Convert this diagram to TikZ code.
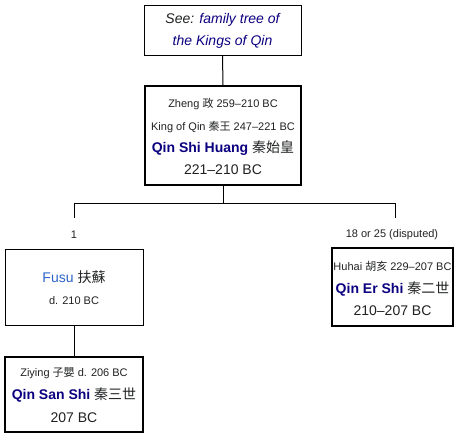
\documentclass[tikz,border=0pt]{standalone}
\usepackage{fontspec}
\setmainfont{Liberation Sans}
\newfontfamily\cjk{Noto Sans CJK TC}
\usepackage{xcolor}
\definecolor{visitedblue}{RGB}{11,0,128}
\definecolor{linkblue}{RGB}{45,100,200}
\definecolor{darktext}{RGB}{32,33,34}

\tikzset{
  box/.style={draw, line width=1pt, inner sep=0pt},
  thickbox/.style={draw, line width=2pt, inner sep=0pt},
  tiny/.style={font=\fontsize{11}{13}\selectfont, text=darktext, inner sep=0pt},
  large/.style={font=\fontsize{14}{16}\selectfont, text=darktext, inner sep=0pt},
  conn/.style={line width=1pt}
}

\begin{document}
\begin{tikzpicture}[x=1pt,y=1pt,yscale=-1,xscale=1]
\useasboundingbox (0,0) rectangle (463,439);

%Shape: Rectangle [see also]
\node (seebox) [box, minimum width=157, minimum height=50] at (222.5,30) {};
%Shape: Rectangle [Qin Shi Huang]
\node (shihuang) [thickbox, minimum width=156, minimum height=99] at (223,135.5) {};
%Shape: Rectangle [Fusu]
\node (fusu) [box, minimum width=138, minimum height=76] at (74,287) {};
%Shape: Rectangle [Qin Er Shi]
\node (ershi) [thickbox, minimum width=121, minimum height=78] at (392.5,287) {};
%Shape: Rectangle [Qin San Shi]
\node (ziying) [thickbox, minimum width=138, minimum height=75] at (74,394.5) {};

%Straight Lines
\coordinate (fork) at (shihuang.south |- 0,203);
\coordinate (leftfork) at (74,203);
\coordinate (rightfork) at (395,203);
\coordinate (leftend) at (74,218);
\coordinate (rightend) at (395,218);
\draw [conn] (seebox.south) -- (shihuang.north);
\draw [conn] (shihuang.south) -- (fork);
\draw [conn] (leftend) -- (leftfork) -- (rightfork) -- (rightend);
\draw [conn] (fusu.south) -- (ziying.north);

% Text Node
\node (seeA) [large] at (222.5,20) {\itshape See: \textcolor{visitedblue}{family tree of}};
% Text Node
\node (seeB) [large, text=visitedblue] at (222.5,42) {\itshape the Kings of Qin};

% Text Node
\node (zheng) [tiny] at (223,104) {Zheng {\cjk 政} 259–210 BC};
% Text Node
\node (kingqin) [tiny] at (223,127) {King of Qin {\cjk 秦王} 247–221 BC};
% Text Node
\node (shname) [large] at (223,148) {\textcolor{visitedblue}{\bfseries Qin Shi Huang} {\cjk 秦始皇}};
% Text Node
\node (shyears) [large] at (223,169.5) {221–210 BC};

% Text Node
\node (sonA) [tiny] at (74,235) {1};
% Text Node
\node (sonB) [tiny] at (392,235) {18 or 25 (disputed)};

% Text Node
\node (fsname) [large] at (74,277) {\textcolor{linkblue}{Fusu} {\cjk 扶蘇}};
% Text Node
\node (fsdied) [tiny] at (74,300.5) {d. 210 BC};

% Text Node
\node (huhai) [tiny] at (392.5,266) {Huhai {\cjk 胡亥} 229–207 BC};
% Text Node
\node (esname) [large] at (392.5,289) {\textcolor{visitedblue}{\bfseries Qin Er Shi} {\cjk 秦二世}};
% Text Node
\node (esyears) [large] at (392.5,311) {210–207 BC};

% Text Node
\node (ziyname) [tiny] at (74,373.5) {Ziying {\cjk 子嬰} d. 206 BC};
% Text Node
\node (ssname) [large] at (74,395) {\textcolor{visitedblue}{\bfseries Qin San Shi} {\cjk 秦三世}};
% Text Node
\node (ssyears) [large] at (74,418) {207 BC};

\end{tikzpicture}
\end{document}
